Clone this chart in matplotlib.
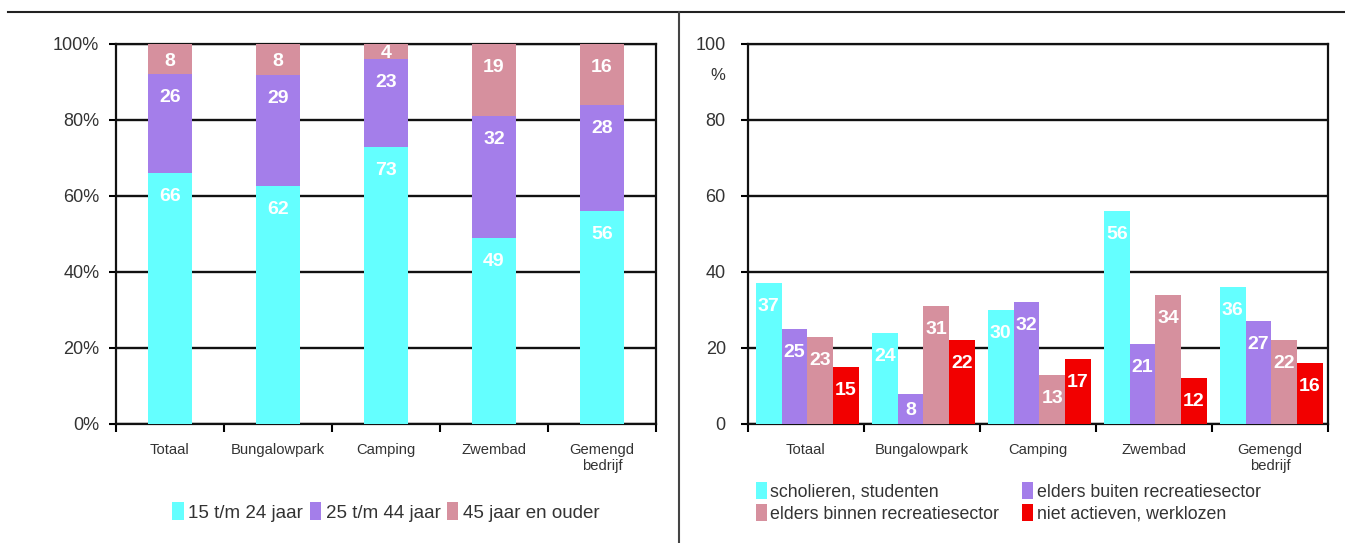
import matplotlib
matplotlib.use("Agg")
import matplotlib.pyplot as plt
from matplotlib.lines import Line2D
from matplotlib.patches import Patch
import numpy as np

# ---------------- data ----------------
categories = ["Totaal", "Bungalowpark", "Camping", "Zwembad", "Gemengd\nbedrijf"]

age_labels = ["15 t/m 24 jaar", "25 t/m 44 jaar", "45 jaar en ouder"]
age_15_24 = [66, 62, 73, 49, 56]
age_25_44 = [26, 29, 23, 32, 28]
age_45_plus = [8, 8, 4, 19, 16]

status_labels = ["scholieren, studenten", "elders buiten recreatiesector",
                 "elders binnen recreatiesector", "niet actieven, werklozen"]
scholieren = [37, 24, 30, 56, 36]
elders_buiten = [25, 8, 32, 21, 27]
elders_binnen = [23, 31, 13, 34, 22]
niet_actief = [15, 22, 17, 12, 16]

left_ticks = [0, 20, 40, 60, 80, 100]
left_ticklabels = ["0%", "20%", "40%", "60%", "80%", "100%"]
right_ticks = [0, 20, 40, 60, 80, 100]

# ---------------- style ----------------
CYAN = "#64FFFF"
PURPLE = "#A47EEA"
PINK = "#D6909E"
RED = "#F20000"
FONT = ["Liberation Sans", "DejaVu Sans"]
plt.rcParams["font.family"] = FONT

W, H = 1345, 543
fig = plt.figure(figsize=(W / 100, H / 100), dpi=100)


def px_axes(x0, y0, x1, y1):
    return fig.add_axes([x0 / W, 1 - y1 / H, (x1 - x0) / W, (y1 - y0) / H])


def style_axes(ax, ymax=100):
    ax.set_ylim(0, ymax)
    ax.set_xlim(-0.5, len(categories) - 0.5)
    for s in ax.spines.values():
        s.set_linewidth(1.6)
        s.set_color("#111111")
    ax.yaxis.grid(True, color="#111111", linewidth=1.7)
    ax.set_axisbelow(True)
    ax.set_xticks(np.arange(len(categories)))
    ax.set_xticklabels(categories, fontsize=10.6, color="#333333", linespacing=1.15)
    ax.set_xticks(np.arange(len(categories) + 1) - 0.5, minor=True)
    ax.tick_params(axis="x", which="major", length=0, pad=14)
    ax.tick_params(axis="x", which="minor", length=6, width=1.5, direction="out")
    ax.tick_params(axis="y", which="major", length=5, width=1.5, direction="out",
                   labelsize=13, labelcolor="#333333")


def put_label(ax, x, bottom, height, text):
    top = bottom + height
    off = min(6.2, height / 2 + 0.5)
    ax.text(x, top - off, text, ha="center", va="center", color="white",
            fontsize=14, fontweight="bold", zorder=5)


# ---------------- left chart: 100% stacked ----------------
axL = px_axes(116, 44, 656, 424)
style_axes(axL)
axL.set_yticks(left_ticks)
axL.set_yticklabels(left_ticklabels)
axL.tick_params(axis="y", pad=7)

series_left = [age_15_24, age_25_44, age_45_plus]
colors_left = [CYAN, PURPLE, PINK]
totals = np.sum(np.array(series_left, dtype=float), axis=0)
x = np.arange(len(categories))
bottom = np.zeros(len(categories))
for vals, col, lab in zip(series_left, colors_left, age_labels):
    share = np.array(vals, dtype=float) / totals * 100
    axL.bar(x, share, bottom=bottom, width=0.41, color=col, label=lab, zorder=3)
    for xi, b, h, v in zip(x, bottom, share, vals):
        put_label(axL, xi, b, h, str(v))
    bottom = bottom + share

handlesL = [Patch(facecolor=c, edgecolor="none") for c in colors_left]
fig.legend(handlesL, age_labels, loc="center", bbox_to_anchor=(386 / W, 1 - 512 / H),
           ncol=3, frameon=False, fontsize=13.5, handlelength=0.6, handleheight=1.1,
           handletextpad=0.25, columnspacing=0.35, labelcolor="#333333")

# ---------------- right chart: grouped ----------------
axR = px_axes(748, 44, 1328, 424)
style_axes(axR)
axR.set_yticks(right_ticks)
axR.tick_params(axis="y", pad=11)
axR.text(-0.052, 0.918, "%", transform=axR.transAxes, ha="center", va="center",
         fontsize=12, color="#333333")

series_right = [scholieren, elders_buiten, elders_binnen, niet_actief]
colors_right = [CYAN, PURPLE, PINK, RED]
bw = 0.222
for i, (vals, col, lab) in enumerate(zip(series_right, colors_right, status_labels)):
    xs = x + (i - 1.5) * bw + 0.012
    axR.bar(xs, vals, width=bw, color=col, label=lab, zorder=3)
    for xi, v in zip(xs, vals):
        put_label(axR, xi, 0, v, str(v))

order = [0, 2, 1, 3]
handlesR = [Patch(facecolor=colors_right[i], edgecolor="none") for i in order]
labelsR = [status_labels[i] for i in order]
fig.legend(handlesR, labelsR, loc="upper left", bbox_to_anchor=(740 / W, 1 - 466 / H),
           ncol=2, frameon=False, fontsize=12.8, handlelength=0.6, handleheight=1.1,
           handletextpad=0.2, columnspacing=1.3, labelspacing=0.2,
           labelcolor="#333333")

# ---------------- frame lines ----------------
fig.add_artist(Line2D([8 / W, 1.0], [1 - 12 / H, 1 - 12 / H], color="#222222",
                      linewidth=1.5, transform=fig.transFigure))
fig.add_artist(Line2D([679 / W, 679 / W], [1 - 12 / H, 0], color="#444444",
                      linewidth=1.5, transform=fig.transFigure))

fig.savefig("out.png", dpi=100)
